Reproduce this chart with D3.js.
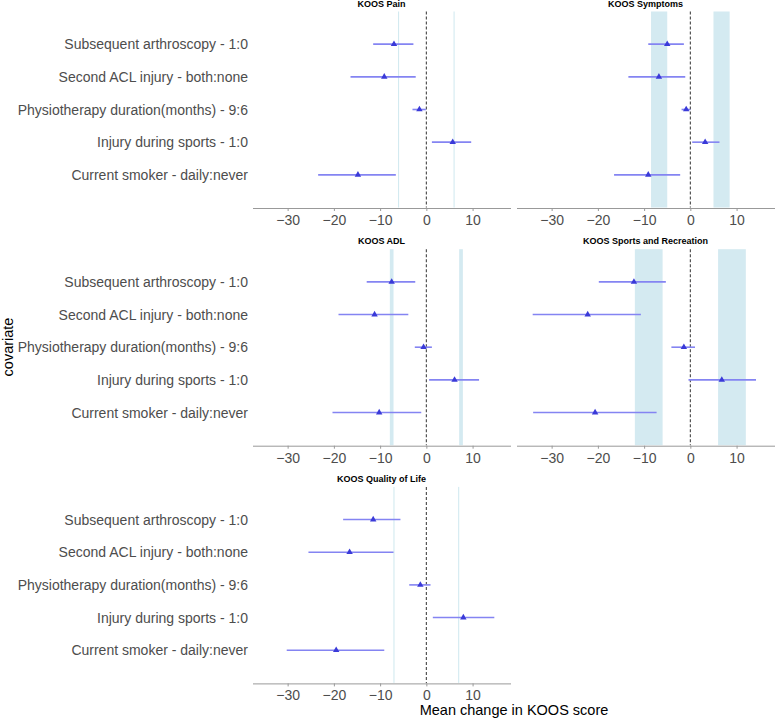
<!DOCTYPE html>
<html>
<head>
<meta charset="utf-8">
<script src="https://cdn.jsdelivr.net/npm/d3@7"></script>
<style>
  body { margin: 0; background: #fff; }
  svg { display: block; }
</style>
</head>
<body>
<svg id="chart"></svg>
<script>
const covariates = [
  "Subsequent arthroscopy - 1:0",
  "Second ACL injury - both:none",
  "Physiotherapy duration(months) - 9:6",
  "Injury during sports - 1:0",
  "Current smoker - daily:never"
];
const outcomes = ["KOOS Pain", "KOOS Symptoms", "KOOS ADL", "KOOS Sports and Recreation", "KOOS Quality of Life"];

// one row per outcome, one value per covariate
const estimates = [
  [-7.0, -9.1, -1.5, 5.7, -14.8],
  [-5.0, -6.8, -0.9, 3.2, -9.1],
  [-7.5, -11.2, -0.6, 6.1, -10.2],
  [-12.2, -22.2, -1.4, 6.8, -20.6],
  [-11.5, -16.6, -1.3, 8.0, -19.5]
];
const lower = [
  [-11.5, -16.4, -3.0, 1.2, -23.4],
  [-9.1, -13.4, -1.9, 0.4, -16.5],
  [-12.9, -19.0, -2.5, 0.6, -20.3],
  [-19.8, -34.1, -4.1, -0.4, -34.0],
  [-18.0, -25.5, -3.7, 1.4, -30.2]
];
const upper = [
  [-2.8, -2.3, -0.1, 9.7, -6.6],
  [-1.4, -1.1, 0.0, 6.3, -2.2],
  [-2.4, -3.9, 1.2, 11.4, -1.1],
  [-5.3, -10.7, 1.0, 14.2, -7.3],
  [-5.6, -7.1, 0.9, 14.7, -9.1]
];
// MCID bands, symmetric around 0
const mcidInner = [6, 5, 7.1, 6, 7];
const mcidOuter = [6, 8.5, 7.9, 12, 7];
const xTicks = [-30, -20, -10, 0, 10];

const width = 777, height = 719;
const panelW = 258, panelH = 196;
const colX = [252.5, 516.5];
const rowY = [11.5, 249.2, 486.9];

const svg = d3.select("#chart").attr("width", width).attr("height", height)
  .style("font-family", "Arial, 'Liberation Sans', sans-serif");

const y = d3.scaleLinear().domain([0, 6]); // covariate i sits at i + 1
const tri = d3.symbol(d3.symbolTriangle, 18);

outcomes.forEach((name, p) => {
  const x0 = colX[p % 2], y0 = rowY[Math.floor(p / 2)];
  const x = d3.scaleLinear().domain([-37.6, 18.2]).range([x0, x0 + panelW]);
  y.range([y0, y0 + panelH]);

  const g = svg.append("g");

  // bands
  [-1, 1].forEach(s => {
    const a = x(s * mcidInner[p]), b = x(s * mcidOuter[p]);
    const left = Math.min(a, b), w = Math.abs(b - a);
    if (w < 1) {
      g.append("line")
        .attr("x1", a).attr("x2", a).attr("y1", y0).attr("y2", y0 + panelH)
        .attr("stroke", "#cfe8ef").attr("stroke-width", 1);
    } else {
      g.append("rect")
        .attr("x", left).attr("y", y0).attr("width", w).attr("height", panelH)
        .attr("fill", "#d4eaf1");
    }
  });

  // zero line
  g.append("line")
    .attr("x1", x(0)).attr("x2", x(0)).attr("y1", y0).attr("y2", y0 + panelH)
    .attr("stroke", "#444").attr("stroke-width", 1.1).attr("stroke-dasharray", "3,2");

  // intervals
  g.selectAll(".ci").data(covariates).enter().append("line")
    .attr("x1", (d, i) => x(lower[p][i]))
    .attr("x2", (d, i) => x(upper[p][i]))
    .attr("y1", (d, i) => y(i + 1))
    .attr("y2", (d, i) => y(i + 1))
    .attr("stroke", "#8484f2").attr("stroke-width", 1.6);

  // estimates
  g.selectAll(".pt").data(covariates).enter().append("path")
    .attr("d", tri)
    .attr("transform", (d, i) => `translate(${x(estimates[p][i])},${y(i + 1)})`)
    .attr("fill", "#3a3ad8");

  // x axis
  const ax = g.append("g")
    .attr("transform", `translate(0,${y0 + panelH + 0.5})`)
    .call(d3.axisBottom(x).tickValues(xTicks).tickSize(3).tickSizeOuter(0).tickPadding(4));
  ax.select(".domain").attr("stroke", "#999");
  ax.selectAll(".tick line").attr("stroke", "#999");
  ax.selectAll(".tick text").attr("fill", "#4d4d4d").style("font-size", "14px");

  // title
  g.append("text")
    .attr("x", x0 + panelW / 2).attr("y", y0 - 8)
    .attr("text-anchor", "middle").attr("dominant-baseline", "central")
    .style("font-size", "9px").style("font-weight", "bold")
    .text(name);

  // covariate labels, left column only
  if (p % 2 === 0) {
    g.selectAll(".lab").data(covariates).enter().append("text")
      .attr("x", 248).attr("y", (d, i) => y(i + 1))
      .attr("text-anchor", "end").attr("dominant-baseline", "central")
      .attr("fill", "#4d4d4d").style("font-size", "14px")
      .text(d => d);
  }
});

svg.append("text")
  .attr("transform", "translate(13,347) rotate(-90)")
  .attr("text-anchor", "middle")
  .style("font-size", "14.5px")
  .text("covariate");

svg.append("text")
  .attr("x", 514).attr("y", 715)
  .attr("text-anchor", "middle")
  .style("font-size", "14.5px")
  .text("Mean change in KOOS score");
</script>
</body>
</html>
